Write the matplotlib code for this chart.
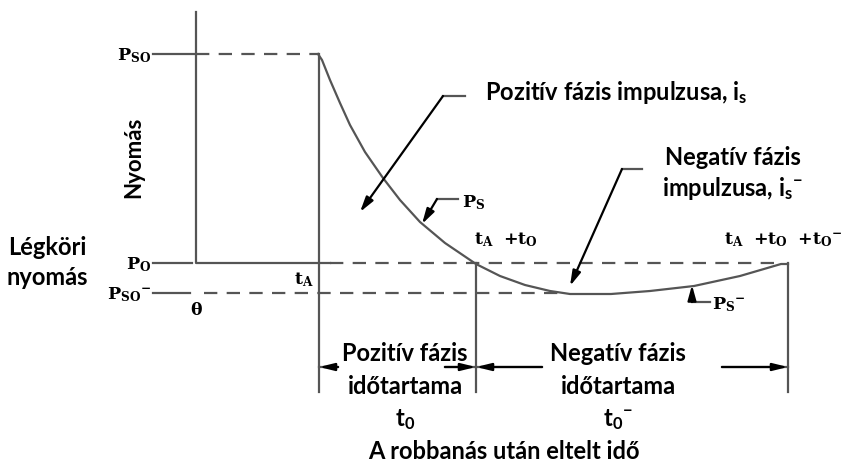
import matplotlib.pyplot as plt

plt.rcParams['mathtext.fontset'] = 'custom'
plt.rcParams['mathtext.rm'] = 'Lato:bold'
plt.rcParams['mathtext.it'] = 'Lato:bold'
plt.rcParams['mathtext.bf'] = 'Lato:bold'

# pressure-time curve of the blast wave (x: time, y: pressure, screen units)
curve_t = [318, 322, 330, 340, 350, 365, 383, 400, 420, 445, 476,
           500, 525, 550, 570, 611, 650, 694, 740, 781, 788]
curve_p = [54, 60, 80, 103, 125, 152, 178, 200, 222, 243, 264,
           276, 285, 291, 294, 294, 291, 286, 276, 264, 264]

# characteristic levels and times
p_so, p_o, p_so_neg = 54, 263, 293
t_zero, t_a, t_a_t0, t_a_t0_neg = 196, 319, 476, 788
axis_top, dim_y, dim_bottom = 12, 367, 392

line_c = '#555555'
lw = 1.6
dash = (6, 4.2)
sans = 'Lato'

fig = plt.figure(figsize=(8.42, 4.61), dpi=100)
ax = fig.add_axes([0, 0, 1, 1])
ax.set_xlim(0, 842)
ax.set_ylim(461, 0)
ax.axis('off')

# axes of the diagram
ax.plot([t_zero, t_zero, 330], [axis_top, p_o, p_o], color=line_c, lw=lw)
ax.plot([153, t_zero], [p_so, p_so], color=line_c, lw=lw)
ax.plot([153, 192], [p_o, p_o], color=line_c, lw=lw)
ax.plot([153, 190], [p_so_neg, p_so_neg], color=line_c, lw=lw)

# dashed reference levels
ax.plot([t_zero, t_a], [p_so, p_so], color=line_c, lw=lw, dashes=dash)
ax.plot([330, 778], [p_o, p_o], color=line_c, lw=lw, dashes=dash)
ax.plot([t_zero + 8, 566], [p_so_neg, p_so_neg], color=line_c, lw=lw, dashes=dash)

# vertical time markers
ax.plot([t_a, t_a], [p_so, dim_bottom], color=line_c, lw=lw)
ax.plot([t_a_t0, t_a_t0], [p_o, dim_bottom], color=line_c, lw=lw)
ax.plot([t_a_t0_neg, t_a_t0_neg], [p_o, dim_bottom], color=line_c, lw=lw)

# pressure curve
ax.plot(curve_t, curve_p, color=line_c, lw=lw, solid_joinstyle='round')


def leader(points, tip):
    xs = [p[0] for p in points]
    ys = [p[1] for p in points]
    ax.plot(xs, ys, color=line_c, lw=lw)
    ax.annotate('', xy=tip, xytext=points[-1],
                arrowprops=dict(arrowstyle='-|>,head_length=0.9,head_width=0.25',
                                color='black', lw=lw, shrinkA=0, shrinkB=0))


leader([(465, 96), (443, 96)], (360, 212))
leader([(642, 169), (622, 169)], (570, 286))
leader([(458, 199), (437, 199)], (422, 224))
leader([(710, 302), (692, 302)], (692, 285))

# duration dimension arrows
for start, end in [(338, t_a), (445, t_a_t0), (542, t_a_t0), (722, t_a_t0_neg)]:
    ax.annotate('', xy=(end, dim_y), xytext=(start, dim_y),
                arrowprops=dict(arrowstyle='-|>,head_length=0.9,head_width=0.22',
                                color='black', lw=lw, shrinkA=0, shrinkB=0))
    ax.plot([start, end], [dim_y, dim_y], color=line_c, lw=lw)

# symbol labels
serif = dict(math_fontfamily='dejavuserif', fontsize=12.5, color='black')
ax.text(151, p_so + 2, r'$\mathbf{P_{SO}}$', ha='right', va='center', **serif)
ax.text(151, p_o + 2, r'$\mathbf{P_{O}}$', ha='right', va='center', **serif)
ax.text(151, p_so_neg + 2, r'$\mathbf{P_{SO}{}^{-}}$', ha='right', va='center', **serif)
ax.text(t_zero, 310, r'$\mathbf{\theta}$', ha='center', va='center', **serif)
ax.text(304, 280, r'$\mathbf{t_A}$', ha='center', va='center', **serif)
ax.text(462, 203, r'$\mathbf{P_S}$', ha='left', va='center', **serif)
ax.text(712, 305, r'$\mathbf{P_S{}^{-}}$', ha='left', va='center', **serif)
ax.text(474, 240, r'$\mathbf{t_A\ \ {+}t_O}$', ha='left', va='center', **serif)
ax.text(724, 240, r'$\mathbf{t_A\ \ {+}t_O\ \ {+}t_O{}^{-}}$', ha='left', va='center', **serif)

# descriptive labels
txt = dict(fontfamily=sans, fontweight='bold', fontsize=17, color='black')
ax.text(47, 247, 'Légköri', ha='center', va='center', **txt)
ax.text(47, 277, 'nyomás', ha='center', va='center', **txt)
ax.text(134, 157, 'Nyomás', ha='center', va='center', rotation=90,
        fontfamily=sans, fontweight='bold', fontsize=16, color='black')
ax.text(485, 92, r'Pozitív fázis impulzusa, i$_s$', ha='left', va='center', **txt)
ax.text(733, 157, 'Negatív fázis', ha='center', va='center', **txt)
ax.text(733, 188, r'impulzusa, i$_s{}^{-}$', ha='center', va='center', **txt)

ax.text(405, 353, 'Pozitív fázis', ha='center', va='center', **txt)
ax.text(405, 386, 'időtartama', ha='center', va='center', **txt)
ax.text(405, 420, r't$_0$', ha='center', va='center', **txt)
ax.text(618, 353, 'Negatív fázis', ha='center', va='center', **txt)
ax.text(618, 386, 'időtartama', ha='center', va='center', **txt)
ax.text(618, 420, r't$_0{}^{-}$', ha='center', va='center', **txt)
ax.text(504, 451, 'A robbanás után eltelt idő', ha='center', va='center', **txt)

fig.savefig('out.png', dpi=100)
